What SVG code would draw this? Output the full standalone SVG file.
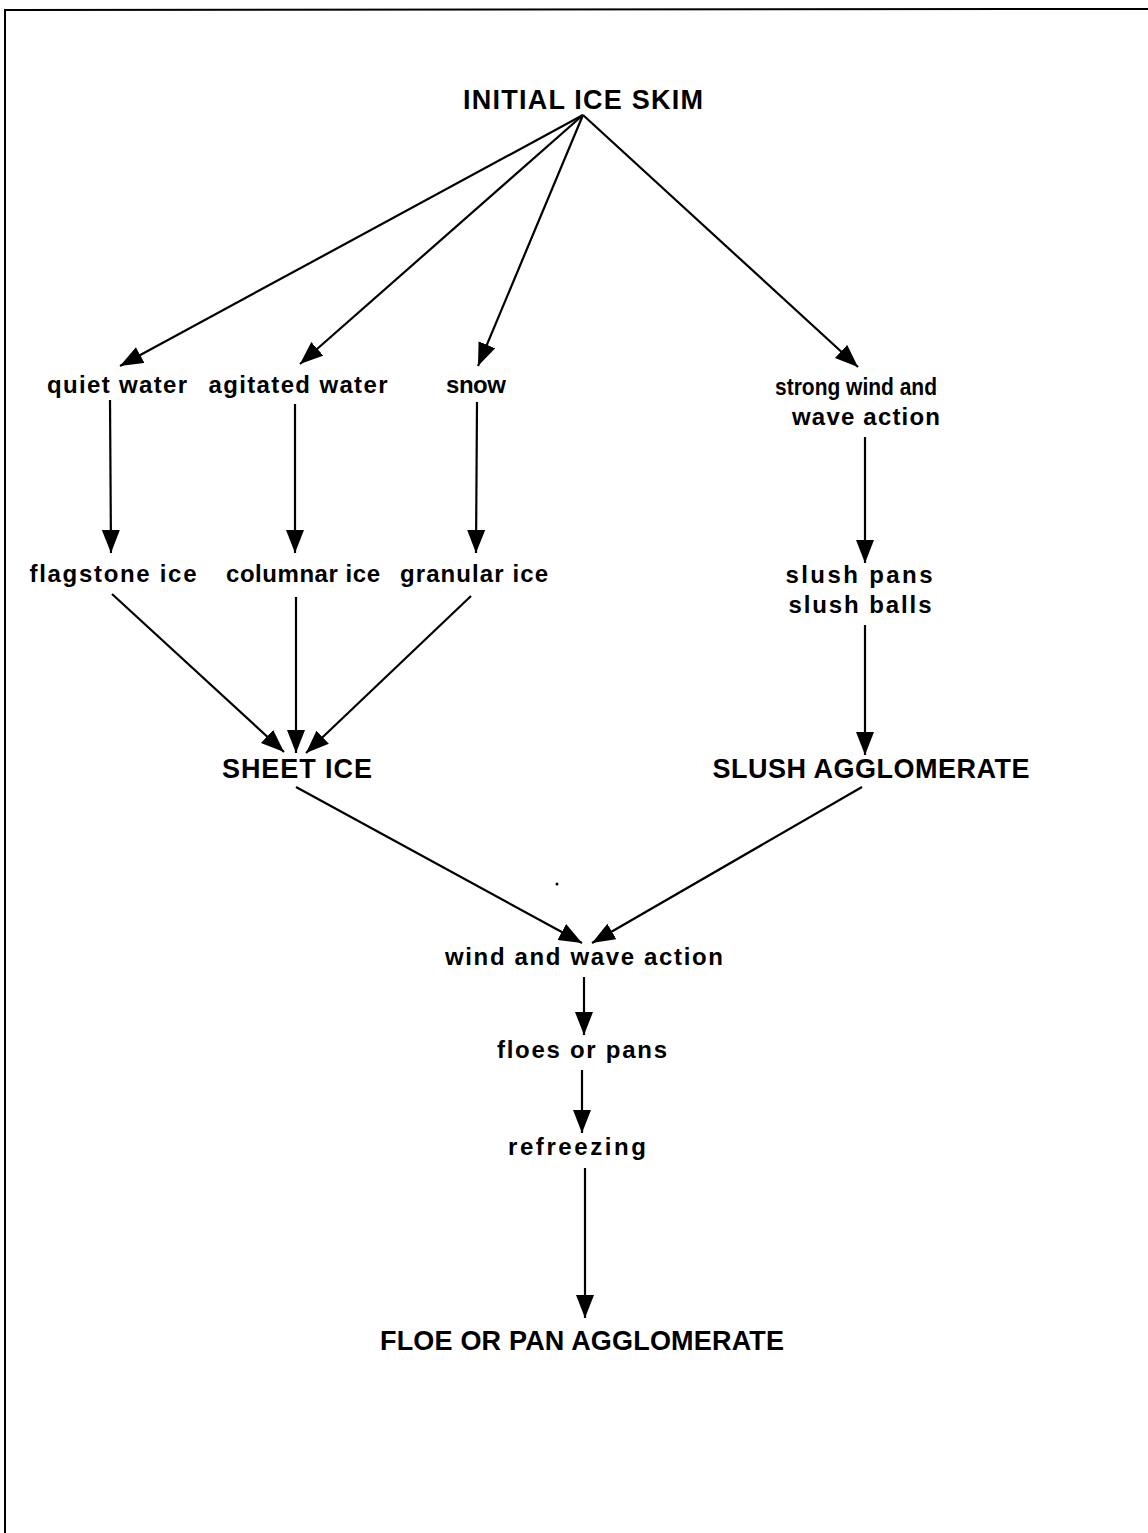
<svg xmlns="http://www.w3.org/2000/svg" width="1148" height="1533" viewBox="0 0 1148 1533">
<defs>
<marker id="ah" markerUnits="userSpaceOnUse" markerWidth="26" markerHeight="20" refX="23" refY="9" orient="auto">
<path d="M0,0 L23,9 L0,18 Z" fill="#000"/>
</marker>
<style>
.t{font-family:"Liberation Sans",Arial,sans-serif;font-weight:bold;font-size:24px;fill:#000;text-anchor:middle}
.c{font-family:"Liberation Sans",Arial,sans-serif;font-weight:bold;font-size:27px;fill:#000;text-anchor:middle}
.e{stroke:#000;stroke-width:2.2;fill:none;marker-end:url(#ah)}
</style>
</defs>
<rect width="1148" height="1533" fill="#fff"/>
<path d="M5,1533 L5,10 L1148,9" fill="none" stroke="#000" stroke-width="2"/>
<circle cx="557" cy="884" r="1.5" fill="#000"/>
<g id="connectors">
<line class="e" x1="583" y1="115" x2="120" y2="366"/>
<line class="e" x1="583" y1="115" x2="300" y2="364"/>
<line class="e" x1="583" y1="115" x2="478" y2="366"/>
<line class="e" x1="583" y1="115" x2="858" y2="367"/>
<line class="e" x1="110" y1="400" x2="111" y2="553"/>
<line class="e" x1="295" y1="404" x2="295" y2="553"/>
<line class="e" x1="477" y1="402" x2="476" y2="553"/>
<line class="e" x1="865" y1="437" x2="865" y2="563"/>
<line class="e" x1="112" y1="594" x2="284" y2="752"/>
<line class="e" x1="296" y1="597" x2="296" y2="753"/>
<line class="e" x1="471" y1="596" x2="306" y2="753"/>
<line class="e" x1="865" y1="625" x2="865" y2="755"/>
<line class="e" x1="296" y1="787" x2="582" y2="943"/>
<line class="e" x1="862" y1="787" x2="592" y2="943"/>
<line class="e" x1="584" y1="977" x2="584" y2="1035"/>
<line class="e" x1="582" y1="1070" x2="582" y2="1133"/>
<line class="e" x1="585" y1="1168" x2="585" y2="1318"/>
</g>
<g id="n-initial"><text class="c" x="583" y="109" textLength="240" lengthAdjust="spacing">INITIAL ICE SKIM</text></g>
<g id="n-quiet"><text class="t" x="117" y="393" textLength="140" lengthAdjust="spacing">quiet water</text></g>
<g id="n-agitated"><text class="t" x="298" y="393" textLength="179" lengthAdjust="spacing">agitated water</text></g>
<g id="n-snow"><text class="t" x="476" y="393" textLength="60" lengthAdjust="spacing">snow</text></g>
<g id="n-strong"><text class="t" x="856" y="395" textLength="162" lengthAdjust="spacingAndGlyphs">strong wind and</text><text class="t" x="866" y="425" textLength="148" lengthAdjust="spacing">wave action</text></g>
<g id="n-flagstone"><text class="t" x="113" y="582" textLength="167" lengthAdjust="spacing">flagstone ice</text></g>
<g id="n-columnar"><text class="t" x="303" y="582" textLength="154" lengthAdjust="spacing">columnar ice</text></g>
<g id="n-granular"><text class="t" x="474" y="582" textLength="148" lengthAdjust="spacing">granular ice</text></g>
<g id="n-slush"><text class="t" x="859" y="583" textLength="147" lengthAdjust="spacing">slush pans</text><text class="t" x="860" y="613" textLength="143" lengthAdjust="spacing">slush balls</text></g>
<g id="n-sheet"><text class="c" x="297" y="778" textLength="150" lengthAdjust="spacing">SHEET ICE</text></g>
<g id="n-slushagg"><text class="c" x="871" y="778" textLength="317" lengthAdjust="spacing">SLUSH AGGLOMERATE</text></g>
<g id="n-wind"><text class="t" x="584" y="965" textLength="278" lengthAdjust="spacing">wind and wave action</text></g>
<g id="n-floes"><text class="t" x="582" y="1058" textLength="170" lengthAdjust="spacing">floes or pans</text></g>
<g id="n-refreezing"><text class="t" x="577" y="1155" textLength="138" lengthAdjust="spacing">refreezing</text></g>
<g id="n-floeagg"><text class="c" x="582" y="1350" textLength="404" lengthAdjust="spacing">FLOE OR PAN AGGLOMERATE</text></g>
</svg>
